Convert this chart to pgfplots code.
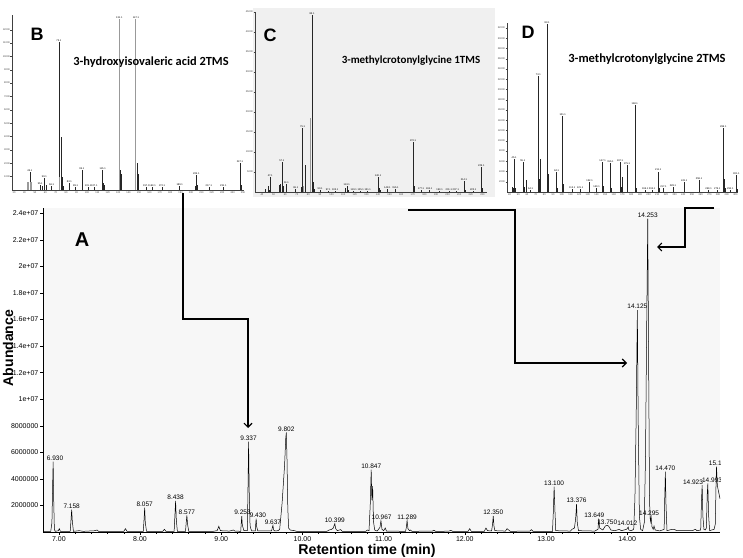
\documentclass[border=0pt]{standalone}
\usepackage{fontspec}
\setmainfont{Liberation Sans}
\newfontfamily\calib{Carlito}
\usepackage{pgfplots}
\pgfplotsset{compat=1.18}
\usetikzlibrary{arrows.meta}

\tikzset{lbl/.style={anchor=south, font=\fontsize{6.5}{7}\selectfont, inner sep=1pt}}
\pgfplotsset{
  inset/.style={
    scale only axis, anchor=south west,
    axis x line*=bottom, axis y line*=left,
    axis line style={line width=0.4pt, black!75},
    tick align=outside, major tick length=1.5pt,
    tick style={line width=0.3pt, black!75},
    ticklabel style={font=\fontsize{2.5}{3}\selectfont, text=black!75, inner sep=0.5pt},
    ymin=0, scaled y ticks=false, scaled x ticks=false,
    /pgf/number format/assume math mode=true,
    /pgf/number format/1000 sep={},
    clip=false,
  },
  bar/.style={ycomb, black!85, line width=0.45pt, mark=none},
  lbar/.style={bar, nodes near coords={\pgfmathprintnumber[fixed,precision=1,zerofill]{\pgfplotspointmeta}},
    point meta=x,
    every node near coord/.style={font=\fontsize{2.5}{3}\selectfont, inner sep=0.3pt, anchor=south, text=black}},
  gbar/.style={ycomb, black!40, line width=1.1pt, mark=none},
  glbar/.style={gbar, nodes near coords={\pgfmathprintnumber[fixed,precision=1,zerofill]{\pgfplotspointmeta}},
    point meta=x,
    every node near coord/.style={font=\fontsize{2.5}{3}\selectfont, inner sep=0.3pt, anchor=south, text=black}},
}

\begin{document}
\begin{tikzpicture}
\useasboundingbox (0,0) rectangle (743pt,557pt);
\fill[white] (0,0) rectangle (743pt,557pt);
% grey panel behind C
\fill[black!6] (253pt,360pt) rectangle (495pt,549pt);

% ---------------- main chromatogram A ----------------
\begin{axis}[
  at={(43pt,25pt)}, anchor=south west,
  scale only axis, width=677pt, height=324pt,
  xmin=6.805, xmax=15.143, ymin=0, ymax=24.4,
  axis x line*=bottom, axis y line*=left,
  axis line style={line width=0.6pt},
  axis background/.style={fill=black!3},
  tick align=outside,
  major tick length=3pt, minor tick length=1.5pt,
  tick style={black, line width=0.5pt},
  xtick={7,8,9,10,11,12,13,14},
  xticklabels={7.00,8.00,9.00,10.00,11.00,12.00,13.00,14.00},
  minor x tick num=4,
  ytick={2,4,6,8,10,12,14,16,18,20,22,24},
  yticklabels={2000000,4000000,6000000,8000000,1e+07,1.2e+07,1.4e+07,1.6e+07,1.8e+07,2e+07,2.2e+07,2.4e+07},
  ticklabel style={font=\fontsize{7}{8}\selectfont, inner sep=1.5pt},
  clip=true,
]
\addplot[black, line width=0.5pt] table {
t a
6.805 0.05
6.900 0.05
6.915 0.70
6.925 3.90
6.930 5.30
6.937 2.40
6.945 0.20
6.955 0.05
6.995 0.10
7.005 0.25
7.020 0.05
7.140 0.05
7.150 0.90
7.158 1.69
7.166 0.80
7.180 0.05
7.250 0.10
7.300 0.05
7.450 0.10
7.470 0.15
7.490 0.05
7.800 0.05
7.820 0.25
7.840 0.05
8.040 0.05
8.050 1.00
8.057 1.84
8.065 0.70
8.080 0.05
8.280 0.05
8.300 0.20
8.320 0.05
8.420 0.05
8.430 1.30
8.438 2.35
8.447 0.90
8.460 0.05
8.560 0.05
8.570 0.80
8.577 1.26
8.585 0.60
8.600 0.05
8.900 0.05
8.950 0.10
8.970 0.43
8.990 0.10
9.100 0.07
9.150 0.15
9.170 0.07
9.240 0.05
9.247 0.70
9.253 1.20
9.260 0.50
9.280 0.10
9.322 0.10
9.330 3.50
9.337 6.80
9.345 3.00
9.355 0.50
9.362 0.30
9.375 0.08
9.420 0.08
9.425 0.60
9.430 1.00
9.437 0.40
9.450 0.08
9.620 0.08
9.630 0.35
9.637 0.50
9.645 0.15
9.660 0.08
9.700 0.10
9.720 0.20
9.750 2.20
9.780 5.00
9.795 7.10
9.802 7.50
9.810 5.50
9.820 1.80
9.830 0.30
9.850 0.15
9.900 0.10
9.930 0.05
10.300 0.05
10.330 0.15
10.360 0.20
10.380 0.30
10.399 0.63
10.410 0.25
10.430 0.10
10.470 0.18
10.490 0.05
10.780 0.05
10.800 0.15
10.820 0.10
10.835 2.00
10.847 4.70
10.855 2.40
10.865 3.45
10.875 0.80
10.890 0.15
10.920 0.07
10.955 0.35
10.967 0.85
10.980 0.20
11.000 0.10
11.020 0.30
11.035 0.07
11.270 0.05
11.280 0.35
11.289 0.88
11.300 0.25
11.320 0.10
11.330 0.15
11.350 0.05
11.600 0.07
11.620 0.13
11.640 0.05
11.800 0.06
11.830 0.12
11.850 0.05
12.040 0.05
12.060 0.25
12.080 0.05
12.240 0.05
12.260 0.30
12.280 0.10
12.330 0.08
12.342 0.60
12.350 1.21
12.360 0.40
12.370 0.10
12.500 0.07
12.520 0.25
12.540 0.15
12.560 0.05
12.800 0.07
12.820 0.18
12.840 0.05
13.080 0.05
13.090 1.50
13.100 3.41
13.110 1.60
13.120 0.10
13.300 0.07
13.320 0.20
13.350 0.30
13.365 1.00
13.376 2.09
13.385 0.70
13.400 0.10
13.600 0.07
13.640 0.20
13.649 1.01
13.660 0.30
13.700 0.15
13.730 0.45
13.750 0.50
13.770 0.45
13.800 0.15
13.850 0.10
13.900 0.20
13.930 0.10
13.960 0.15
13.990 0.20
14.000 0.25
14.012 0.38
14.020 0.15
14.050 0.10
14.080 0.20
14.095 2.50
14.110 8.50
14.125 16.70
14.135 8.50
14.150 1.20
14.165 0.20
14.190 0.10
14.210 0.70
14.225 5.50
14.240 15.50
14.253 23.60
14.262 14.50
14.275 2.30
14.285 0.80
14.295 1.14
14.305 0.40
14.320 0.20
14.330 0.45
14.345 0.15
14.400 0.08
14.455 0.20
14.462 2.50
14.470 4.54
14.478 2.00
14.490 0.10
14.520 0.15
14.550 0.20
14.580 0.20
14.610 0.10
14.800 0.10
14.840 0.20
14.860 0.10
14.905 0.15
14.915 2.40
14.923 3.53
14.932 1.20
14.945 0.20
14.960 0.15
14.975 0.30
14.985 2.80
14.993 3.66
15.002 1.30
15.015 0.10
15.040 0.15
15.070 0.20
15.085 0.60
15.095 3.90
15.100 4.92
15.110 3.50
15.143 2.50
};
\node[lbl] at (axis cs:6.953,5.3) {6.930};
\node[lbl] at (axis cs:7.158,1.69) {7.158};
\node[lbl] at (axis cs:8.057,1.84) {8.057};
\node[lbl] at (axis cs:8.438,2.35) {8.438};
\node[lbl] at (axis cs:8.577,1.26) {8.577};
\node[lbl] at (axis cs:9.262,1.2) {9.253};
\node[lbl] at (axis cs:9.337,6.8) {9.337};
\node[lbl] at (axis cs:9.452,1.0) {9.430};
\node[lbl] at (axis cs:9.637,0.5) {9.637};
\node[lbl] at (axis cs:9.802,7.5) {9.802};
\node[lbl] at (axis cs:10.399,0.63) {10.399};
\node[lbl] at (axis cs:10.847,4.7) {10.847};
\node[lbl] at (axis cs:10.975,0.88) {10.967};
\node[lbl] at (axis cs:11.289,0.88) {11.289};
\node[lbl] at (axis cs:12.350,1.21) {12.350};
\node[lbl] at (axis cs:13.100,3.41) {13.100};
\node[lbl] at (axis cs:13.376,2.09) {13.376};
\node[lbl] at (axis cs:13.595,1.01) {13.649};
\node[lbl] at (axis cs:13.754,0.5) {13.750};
\node[lbl] at (axis cs:14.000,0.38) {14.012};
\node[lbl] at (axis cs:14.125,16.7) {14.125};
\node[lbl] at (axis cs:14.253,23.6) {14.253};
\node[lbl] at (axis cs:14.270,1.14) {14.295};
\node[lbl] at (axis cs:14.470,4.54) {14.470};
\node[lbl] at (axis cs:14.810,3.45) {14.923};
\node[lbl] at (axis cs:15.045,3.66) {14.993};
\node[lbl] at (axis cs:15.085,4.92) {15.1};
\end{axis}

\node[font=\fontsize{20}{22}\selectfont\bfseries] at (82pt,317pt) {A};
\node[font=\fontsize{14.2}{16}\selectfont\bfseries] at (367pt,6pt) {Retention time (min)};
\node[font=\fontsize{14}{16}\selectfont\bfseries, rotate=90] at (8pt,209pt) {Abundance};

% ---------------- inset B ----------------
\begin{axis}[inset, at={(12pt,367pt)}, width=231pt, height=175pt,
  xmin=28, xmax=250, ymax=13100,
  xtick={30,40,...,250}, ytick={1000,2000,...,12000}]
\addplot[lbar] table {
m i
45.1 1350
55.1 350
59.1 900
66.1 300
73.1 11050
83.1 500
89.1 200
95.1 1500
101.1 250
107.1 200
115.1 1500
157.1 200
163.1 200
172.1 200
189.1 300
205.1 1100
217.1 200
231.1 200
247.1 2000
};
\addplot[bar] table {
m i
57 300
61 400
75 4000
76 1000
77 300
116 500
117 400
132 1500
133 1200
148 2000
149 1200
204 300
206 400
248 400
};
\addplot[glbar] table {
m i
131.1 12780
147.1 12780
};
\addplot[gbar] table {
m i
43 600
44 600
46 600
47 600
74 1000
};
\end{axis}
\node[font=\fontsize{18}{20}\selectfont\bfseries] at (37pt,523pt) {B};
\node[font=\calib\fontsize{12.4}{14}\selectfont\bfseries] at (151pt,495pt) {3-hydroxyisovaleric acid 2TMS};

% ---------------- inset C ----------------
\begin{axis}[inset, at={(255pt,365pt)}, width=232pt, height=180pt,
  xmin=34, xmax=234, ymax=45000,
  xtick={40,50,...,230}, ytick={5000,10000,...,45000}]
\addplot[lbar] table {
m i
47.1 3750
57.1 7500
61.1 2000
69.1 800
75.1 16000
83.1 44250
90.1 500
97.1 300
103.1 300
113.1 1500
119.1 300
125.1 300
131.1 300
140.1 3750
148.1 700
155.1 800
170.1 12500
177.1 400
184.1 500
193.1 300
201.1 300
207.1 300
214.1 2750
222.1 300
229.1 6250
};
\addplot[bar] table {
m i
43 800
45 1500
46 600
55 1750
56 2000
58 1500
74 1200
77 6750
84 2500
85 800
112 900
114 600
141 1000
142 600
171 1500
215 600
230 1000
};
\addplot[gbar] table {
m i
76 1500
82 18500
};
\end{axis}
\node[font=\fontsize{18}{20}\selectfont\bfseries] at (270pt,522pt) {C};
\node[font=\calib\fontsize{11}{13}\selectfont\bfseries] at (411pt,496pt) {3-methylcrotonylglycine 1TMS};

% ---------------- inset D ----------------
\begin{axis}[inset, at={(507pt,365pt)}, width=231pt, height=169pt,
  xmin=37, xmax=303, ymax=33000,
  xtick={40,50,...,300}, ytick={2000,4000,...,32000}]
\addplot[lbar] table {
m i
45.1 6400
55.1 5900
64.1 300
73.1 22600
83.1 32800
94.1 3900
101.1 14750
112.1 600
121.1 500
132.1 2000
140.1 800
147.1 5900
156.1 5600
167.1 5900
175.1 5200
184.1 17050
196.1 300
204.1 300
211.1 4000
217.1 700
228.1 900
241.1 2000
258.1 2300
269.1 300
279.1 300
286.1 12460
294.1 300
301.1 3300
};
\addplot[bar] table {
m i
43 1000
44 800
46 800
57 1000
59 2300
74 2500
75 6500
84 3600
85 1500
95 800
102 1500
148 1200
157 800
168 900
170 3000
185 2600
186 800
212 800
287 2600
288 800
302 600
};
\end{axis}
\node[font=\fontsize{18}{20}\selectfont\bfseries] at (528pt,525pt) {D};
\node[font=\calib\fontsize{12.5}{14}\selectfont\bfseries] at (647pt,498pt) {3-methylcrotonylglycine 2TMS};

% ---------------- arrows ----------------
\tikzset{arr/.style={line width=1.1pt, black, -{Straight Barb[length=4pt,width=8pt]}}}
\draw[arr] (183pt,364pt) -- (183pt,238pt) -- (248pt,238pt) -- (248pt,129pt);
\draw[arr] (408pt,347pt) -- (515pt,347pt) -- (515pt,194pt) -- (627pt,194pt);
\draw[arr] (714pt,349pt) -- (685pt,349pt) -- (685pt,310pt) -- (657pt,310pt);
\end{tikzpicture}
\end{document}
